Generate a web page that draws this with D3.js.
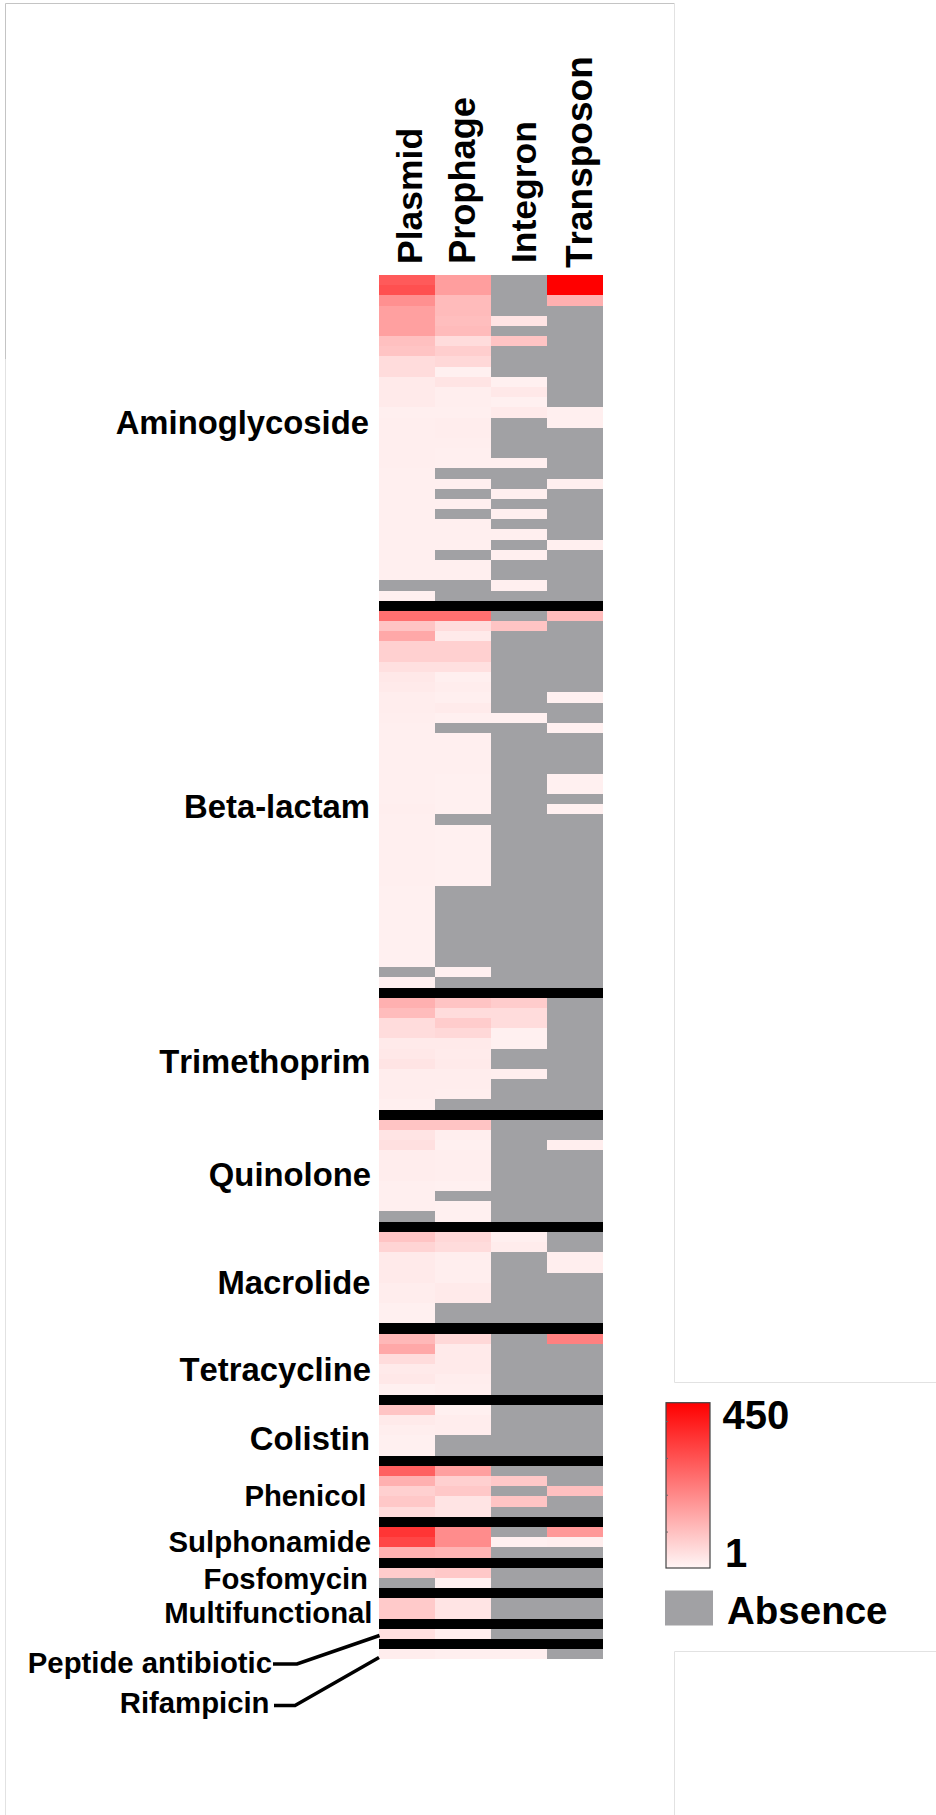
<!DOCTYPE html>
<html>
<head>
<meta charset="utf-8">
<title>Resistance genes on mobile elements</title>
<script src="https://cdn.jsdelivr.net/npm/d3@7"></script>
<style>
    html, body { margin: 0; padding: 0; background: white; }
    svg { display: block; }
    text { font-family: "Liberation Sans", Arial, sans-serif; font-weight: bold; fill: black; font-kerning: none; }
</style>
</head>
<body>
<svg id="chart" width="936" height="1815"></svg>
<script>
// X means the element was not found for that gene (grey cell)
const X = null;

const elements = ["Plasmid", "Prophage", "Integron", "Transposon"];

const antibioticClasses = ["Aminoglycoside", "Beta-lactam", "Trimethoprim", "Quinolone", "Macrolide",
    "Tetracycline", "Colistin", "Phenicol", "Sulphonamide", "Fosfomycin", "Multifunctional",
    "Peptide antibiotic", "Rifampicin"];

// number of genes in each class
const classSizes = [32, 37, 11, 10, 9, 6, 5, 5, 3, 2, 2, 1, 1];

// one line per class
const plasmid = [
    282,300,181,151,151,151,91,83,38,38,12,12,12,2,5,5,5,4,4,3,3,3,3,3,3,3,3,3,3,3,X,1,
    240,83,136,61,61,31,16,12,7,7,5,3,3,3,3,3,2,2,2,4,2,2,2,2,2,2,2,1,1,1,1,1,1,1,1,X,1,
    121,98,38,38,12,16,23,6,6,6,2,
    83,23,31,7,7,7,2,2,2,X,
    83,53,12,12,12,7,7,1,1,
    106,136,38,12,16,1,
    83,12,5,1,1,
    271,121,61,76,38,
    351,321,121,
    68,X,
    72,72,
    31,
    7
];

const prophage = [
    155,155,100,100,95,100,38,65,46,1,23,5,5,2,6,6,4,3,3,X,2,X,2,X,2,2,2,X,2,2,X,X,
    240,38,12,61,61,31,2,7,2,10,1,X,2,2,2,2,1,1,1,1,X,1,1,1,1,1,1,X,X,X,X,X,X,X,X,1,X,
    83,38,68,46,12,11,12,7,7,5,X,
    83,5,1,5,5,5,1,X,1,1,
    46,38,5,5,5,12,12,X,X,
    46,12,12,12,7,5,
    1,7,7,X,X,
    151,61,76,23,23,
    188,188,113,
    76,1,
    23,23,
    5,
    2
];

const integron = [
    X,X,X,X,23,X,83,X,X,X,1,16,1,12,X,X,X,X,2,X,X,2,X,2,X,2,X,2,X,X,2,X,
    X,83,X,X,X,X,X,X,X,X,1,X,X,X,X,X,X,X,X,X,X,X,X,X,X,X,X,X,X,X,X,X,X,X,X,X,X,
    68,38,38,1,1,X,X,5,X,X,X,
    X,X,X,X,X,X,X,X,X,X,
    2,8,X,X,X,X,X,X,X,
    X,X,X,X,X,X,
    X,X,X,X,X,
    X,76,X,83,X,
    X,1,X,
    X,X,
    X,X,
    X,
    2
];

const transposon = [
    450,450,121,X,X,X,X,X,X,X,X,X,X,2,2,X,X,X,X,X,2,X,X,X,X,X,2,X,X,X,X,X,
    98,X,X,X,X,X,X,X,1,X,X,1,X,X,X,X,1,1,X,1,X,X,X,X,X,X,X,X,X,X,X,X,X,X,X,X,X,
    X,X,X,X,X,X,X,X,X,X,X,
    X,X,5,X,X,X,X,X,X,X,
    X,X,5,5,X,X,X,X,X,
    211,X,X,X,X,X,
    X,X,X,X,X,
    X,X,91,X,X,
    166,5,X,
    X,X,
    X,X,
    X,
    X
];

const legendRange = [1, 450];
const legendTicks = [100, 200, 300, 400];

const columns = [plasmid, prophage, integron, transposon];

const ABSENT = "#a1a1a4";

// where each class label sits, these do not follow the rows in the picture
const classLabelLayout = [
    {right: 369, base: 433.5, size: 32.8},
    {right: 370, base: 818, size: 32.8},
    {right: 370.5, base: 1072.5, size: 32.8},
    {right: 371, base: 1186, size: 32.8},
    {right: 370.5, base: 1294, size: 32.8},
    {right: 371, base: 1381, size: 32.8},
    {right: 370, base: 1450, size: 32.8},
    {right: 366.5, base: 1506, size: 29.3},
    {right: 371, base: 1552, size: 29.4},
    {right: 368, base: 1589, size: 29.3},
    {right: 372.5, base: 1623, size: 29.3},
    {right: 272, base: 1672.5, size: 29.3},
    {right: 269.5, base: 1712.5, size: 29.3}
];

const svg = d3.select("#chart");

// walk the classes and put a black separator row between them
let rows = [];
let geneIndex = 0;
classSizes.forEach(function(size, c){
    for (let i = 0; i < size; i++) {
        rows.push({type: "gene", index: geneIndex});
        geneIndex++;
    }
    if (c < classSizes.length - 1) {
        rows.push({type: "separator"});
    }
});

const xScale = d3.scaleBand().domain(elements).range([379, 603]);
const yScale = d3.scaleBand().domain(d3.range(rows.length)).range([275, 1659.3]);
const colorScale = d3.scaleLinear().domain(legendRange).range(["#fff0f0", "#ff0000"]);

// faint frame left over around the panels
const frame = svg.append("g").attr("fill", "none").attr("stroke-width", 1);
frame.append("path").attr("stroke", "#c4c4c4").attr("d", "M5.5,359V3.5H674.5");
frame.append("path").attr("stroke", "#e2e2e2").attr("d", "M5.5,359V1815");
frame.append("path").attr("stroke", "#e2e2e2").attr("d", "M674.5,3.5V1382.5H936");
frame.append("path").attr("stroke", "#e2e2e2").attr("d", "M936,1651.5H674.5V1815");

// the heatmap cells
const heat = svg.append("g").attr("shape-rendering", "crispEdges");
rows.forEach(function(row, r){
    if (row.type === "separator") {
        heat.append("rect")
            .attr("x", xScale.range()[0])
            .attr("y", yScale(r))
            .attr("width", xScale.range()[1] - xScale.range()[0])
            .attr("height", yScale.bandwidth())
            .attr("fill", "black");
        return;
    }
    elements.forEach(function(el, e){
        let value = columns[e][row.index];
        heat.append("rect")
            .attr("x", xScale(el))
            .attr("y", yScale(r))
            .attr("width", xScale.bandwidth())
            .attr("height", yScale.bandwidth())
            .attr("fill", value === null ? ABSENT : colorScale(value));
    });
});

// column headers, rotated
const headerBase = [421.5, 475, 535.5, 592];
const headerStart = [264, 264, 263, 268];
const headerSize = [35.5, 36.2, 35.5, 37];
svg.selectAll(".header").data(elements).enter().append("text")
    .attr("class", "header")
    .attr("transform", (d, i) => "translate(" + headerBase[i] + "," + headerStart[i] + ") rotate(-90)")
    .style("font-size", (d, i) => headerSize[i] + "px")
    .text(d => d);

// class names on the left
svg.selectAll(".classLabel").data(antibioticClasses).enter().append("text")
    .attr("class", "classLabel")
    .attr("x", (d, i) => classLabelLayout[i].right)
    .attr("y", (d, i) => classLabelLayout[i].base)
    .style("text-anchor", "end")
    .style("font-size", (d, i) => classLabelLayout[i].size + "px")
    .text(d => d);

// leader lines for the two single row classes
svg.append("path").attr("fill", "none").attr("stroke", "black").attr("stroke-width", 3.5)
    .attr("d", "M273,1664H297L379.5,1635.5");
svg.append("path").attr("fill", "none").attr("stroke", "black").attr("stroke-width", 3.5)
    .attr("d", "M274,1705.5H295L379,1657.5");

// colour legend
const legendY = d3.scaleLinear().domain(legendRange).range([1568, 1402.7]);
const defs = svg.append("defs");
const gradient = defs.append("linearGradient")
    .attr("id", "legendGradient")
    .attr("x1", 0).attr("x2", 0).attr("y1", 1).attr("y2", 0);
gradient.append("stop").attr("offset", "0%").attr("stop-color", "#fff6f6");
gradient.append("stop").attr("offset", "100%").attr("stop-color", colorScale(legendRange[1]));

svg.append("rect")
    .attr("x", 666)
    .attr("y", legendY(legendRange[1]))
    .attr("width", 44)
    .attr("height", legendY(legendRange[0]) - legendY(legendRange[1]))
    .attr("fill", "url(#legendGradient)")
    .attr("stroke", "#444")
    .attr("stroke-width", 1.2);

// little tick marks inside the legend bar
const legendAxis = d3.axisRight(legendY).tickValues(legendTicks).tickSize(2).tickFormat("");
svg.append("g")
    .attr("transform", "translate(666,0)")
    .call(legendAxis)
    .call(g => g.select(".domain").remove())
    .call(g => g.selectAll("line").attr("stroke", "#666"));

svg.append("text").attr("x", 722.5).attr("y", 1428.5).style("font-size", "40px").text(legendRange[1]);
svg.append("text").attr("x", 725).attr("y", 1566.5).style("font-size", "40px").text(legendRange[0]);

svg.append("rect")
    .attr("x", 665)
    .attr("y", 1590.5)
    .attr("width", 48)
    .attr("height", 35)
    .attr("fill", ABSENT);
svg.append("text").attr("x", 727).attr("y", 1624).style("font-size", "38.5px").text("Absence");
</script>
</body>
</html>
